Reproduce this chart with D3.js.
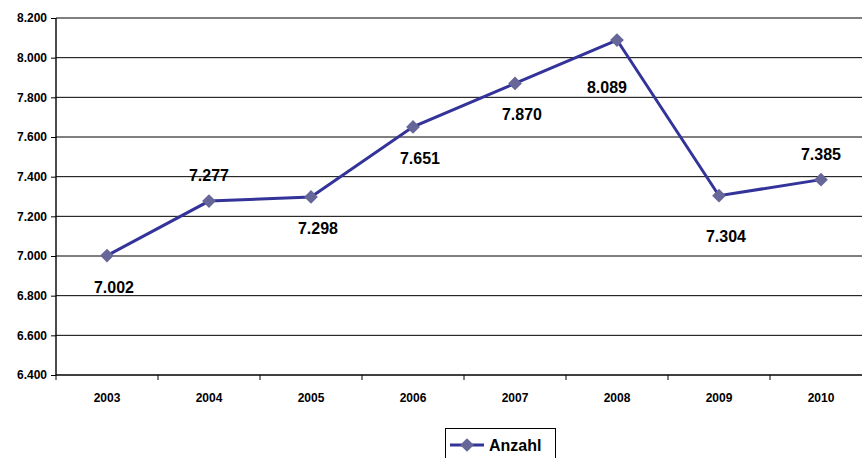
<!DOCTYPE html>
<html>
<head>
<meta charset="utf-8">
<script src="https://cdn.jsdelivr.net/npm/d3@7"></script>
<style>
  body { margin: 0; background: #fff; }
  svg { font-family: "Liberation Sans", Arial, sans-serif; }
  .tick text { font-weight: bold; font-size: 12px; fill: #000; }
  .val { font-weight: bold; font-size: 16px; fill: #000; }
</style>
</head>
<body>
<svg id="chart" width="862" height="458"></svg>
<script>
const years = ["2003", "2004", "2005", "2006", "2007", "2008", "2009", "2010"];
const counts = [7002, 7277, 7298, 7651, 7870, 8089, 7304, 7385];
const yTicks = [6400, 6600, 6800, 7000, 7200, 7400, 7600, 7800, 8000, 8200];
// where each value label sits relative to its point
const labelSide = ["below", "above", "below", "below", "below", "belowLeft", "belowFar", "above"];

const fmt = v => d3.format(",.0f")(v).replace(/,/g, ".");
const fmtTick = v => (v / 1000).toFixed(3);

const svg = d3.select("#chart");
const margin = { left: 56, top: 18, bottom: 83 };
const plotW = 816;
const plotH = 458 - margin.top - margin.bottom;

const x = d3.scaleBand().domain(years).range([margin.left, margin.left + plotW]);
const y = d3.scaleLinear().domain([6400, 8200]).range([margin.top + plotH, margin.top]);

// grid lines
svg.append("g")
    .selectAll("line")
    .data(yTicks)
    .join("line")
    .attr("x1", margin.left).attr("x2", 862)
    .attr("y1", d => y(d)).attr("y2", d => y(d))
    .attr("stroke", "#000").attr("stroke-width", d => d === 6400 ? 1.6 : 1);

// y axis
const yAxis = svg.append("g")
    .attr("transform", `translate(${margin.left},0)`)
    .call(d3.axisLeft(y).tickValues(yTicks).tickFormat(fmtTick).tickSize(5).tickPadding(4));
yAxis.select(".domain").attr("stroke", "#000").attr("stroke-width", 1.4)
    .attr("d", `M0,${y(8200)}V${y(6400)}`);

// x axis
const xAxis = svg.append("g")
    .attr("transform", `translate(0,${y(6400)})`)
    .call(d3.axisBottom(x).tickSize(0).tickPadding(18));
xAxis.select(".domain").remove();
xAxis.selectAll(".sep")
    .data(years.concat(["end"]))
    .join("line")
    .attr("class", "sep")
    .attr("x1", (d, i) => margin.left + i * x.step())
    .attr("x2", (d, i) => margin.left + i * x.step())
    .attr("y1", 0).attr("y2", 5)
    .attr("stroke", "#000");

const pts = years.map((yr, i) => ({ yr, v: counts[i], side: labelSide[i] }));
const cx = d => x(d.yr) + x.bandwidth() / 2;

svg.append("path")
    .datum(pts)
    .attr("fill", "none")
    .attr("stroke", "#333399")
    .attr("stroke-width", 3)
    .attr("d", d3.line().x(cx).y(d => y(d.v)));

const diamond = d3.symbol().type(d3.symbolDiamond2).size(120);
svg.append("g")
    .selectAll("path")
    .data(pts)
    .join("path")
    .attr("d", diamond)
    .attr("transform", d => `translate(${cx(d)},${y(d.v)})`)
    .attr("fill", "#666699");

const offs = { below: [7, 37], above: [0, -20], belowLeft: [-10, 53], belowFar: [7, 46] };
svg.append("g")
    .selectAll("text")
    .data(pts)
    .join("text")
    .attr("class", "val")
    .attr("text-anchor", "middle")
    .attr("x", d => cx(d) + offs[d.side][0])
    .attr("y", d => y(d.v) + offs[d.side][1])
    .text(d => fmt(d.v));

// legend
const lg = svg.append("g").attr("transform", "translate(445,428)");
lg.append("rect").attr("x", 0.5).attr("y", 0.5).attr("width", 110).attr("height", 34)
    .attr("fill", "#fff").attr("stroke", "#000");
lg.append("line").attr("x1", 5).attr("x2", 39).attr("y1", 17).attr("y2", 17)
    .attr("stroke", "#333399").attr("stroke-width", 3);
lg.append("path").attr("d", diamond).attr("transform", "translate(22,17)").attr("fill", "#666699");
lg.append("text").attr("class", "val").attr("x", 44).attr("y", 23).text("Anzahl");
</script>
</body>
</html>
